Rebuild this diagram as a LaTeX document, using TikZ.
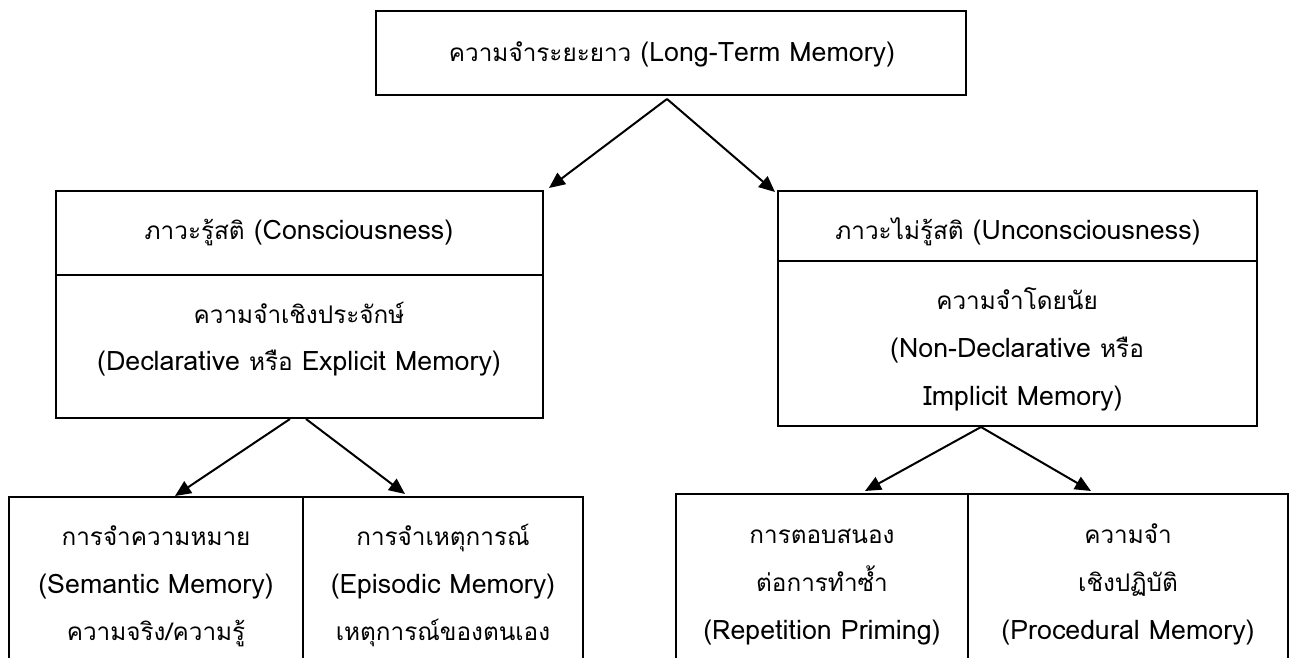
\documentclass[tikz,border=0pt]{standalone}
\usepackage{fontspec}
\setmainfont[Script=Thai]{Loma}
\newfontfamily\thaifont[Script=Thai,Scale=0.907]{Loma}
\newcommand{\tf}[1]{{\thaifont #1}}
\usetikzlibrary{arrows.meta}
\newcommand{\labelsize}{\fontsize{26.8}{30}\selectfont}
\begin{document}
\begin{tikzpicture}[x=1pt,y=-1pt,
  cell/.style 2 args={draw, line width=1.6pt, minimum width=#1pt, minimum height=#2pt,
    inner sep=0pt, outer sep=0pt, anchor=north west},
  txt/.style={anchor=base, inner sep=0pt, font=\labelsize},
  link/.style={-{Triangle[length=16pt,width=14pt]}, line width=2pt}]
\useasboundingbox (0,0) rectangle (1294,657);
\clip (0,0) rectangle (1294,657);

% boxes
\node[cell={590}{84}] (top) at (376,11) {};
\node[cell={487}{84}] (lh) at (56,191) {};
\node[cell={487}{143}] (lb) at (56,275) {};
\node[cell={479}{70}] (rh) at (778,191) {};
\node[cell={479}{165}] (rb) at (778,261) {};
\node[cell={294}{220}] (sem) at (9,497) {};
\node[cell={280}{220}] (epi) at (303,497) {};
\node[cell={292}{220}] (rep) at (676,494) {};
\node[cell={320}{220}] (pro) at (968,494) {};

% labels
\node[txt] (t0) at (672,61) {\tf{ความจำระยะยาว} (Long-Term Memory)};
\node[txt] (t1) at (299,239) {\tf{ภาวะรู้สติ} (Consciousness)};
\node[txt] (t2) at (299,323) {\tf{ความจำเชิงประจักษ์}};
\node[txt] (t3) at (299,370) {(Declarative \tf{หรือ} Explicit Memory)};
\node[txt] (t4) at (1018,239) {\tf{ภาวะไม่รู้สติ} (Unconsciousness)};
\node[txt] (t5) at (1017,309) {\tf{ความจำโดยนัย}};
\node[txt] (t6) at (1017,357) {(Non-Declarative \tf{หรือ}};
\node[txt] (t7) at (1023,405) {Implicit Memory)};
\node[txt] (t8) at (156,545) {\tf{การจำความหมาย}};
\node[txt] (t9) at (156,593) {(Semantic Memory)};
\node[txt] (t10) at (156,640) {\tf{ความจริง/ความรู้}};
\node[txt] (t11) at (443,545) {\tf{การจำเหตุการณ์}};
\node[txt] (t12) at (443,593) {(Episodic Memory)};
\node[txt] (t13) at (443,640) {\tf{เหตุการณ์ของตนเอง}};
\node[txt] (t14) at (822,543) {\tf{การตอบสนอง}};
\node[txt] (t15) at (822,591) {\tf{ต่อการทำซ้ำ}};
\node[txt] (t16) at (822,639) {(Repetition Priming)};
\node[txt] (t17) at (1128,543) {\tf{ความจำ}};
\node[txt] (t18) at (1128,591) {\tf{เชิงปฏิบัติ}};
\node[txt] (t19) at (1128,639) {(Procedural Memory)};

% arrows
\draw[link] ([shift={(-4,4)}]top.south) -- ([shift={(6,-3)}]lh.north east);
\draw[link] ([shift={(-4,4)}]top.south) -- ([shift={(-3,1)}]rh.north west);
\draw[link] ([shift={(-9.5,1)}]lb.south) -- ([shift={(19,-1)}]sem.north);
\draw[link] ([shift={(6.5,1)}]lb.south) -- ([shift={(-38,-3)}]epi.north);
\draw[link] ([shift={(-36.5,1)}]rb.south) -- ([shift={(43,-3)}]rep.north);
\draw[link] ([shift={(-36.5,1)}]rb.south) -- ([shift={(-37,-3)}]pro.north);
\end{tikzpicture}
\end{document}
